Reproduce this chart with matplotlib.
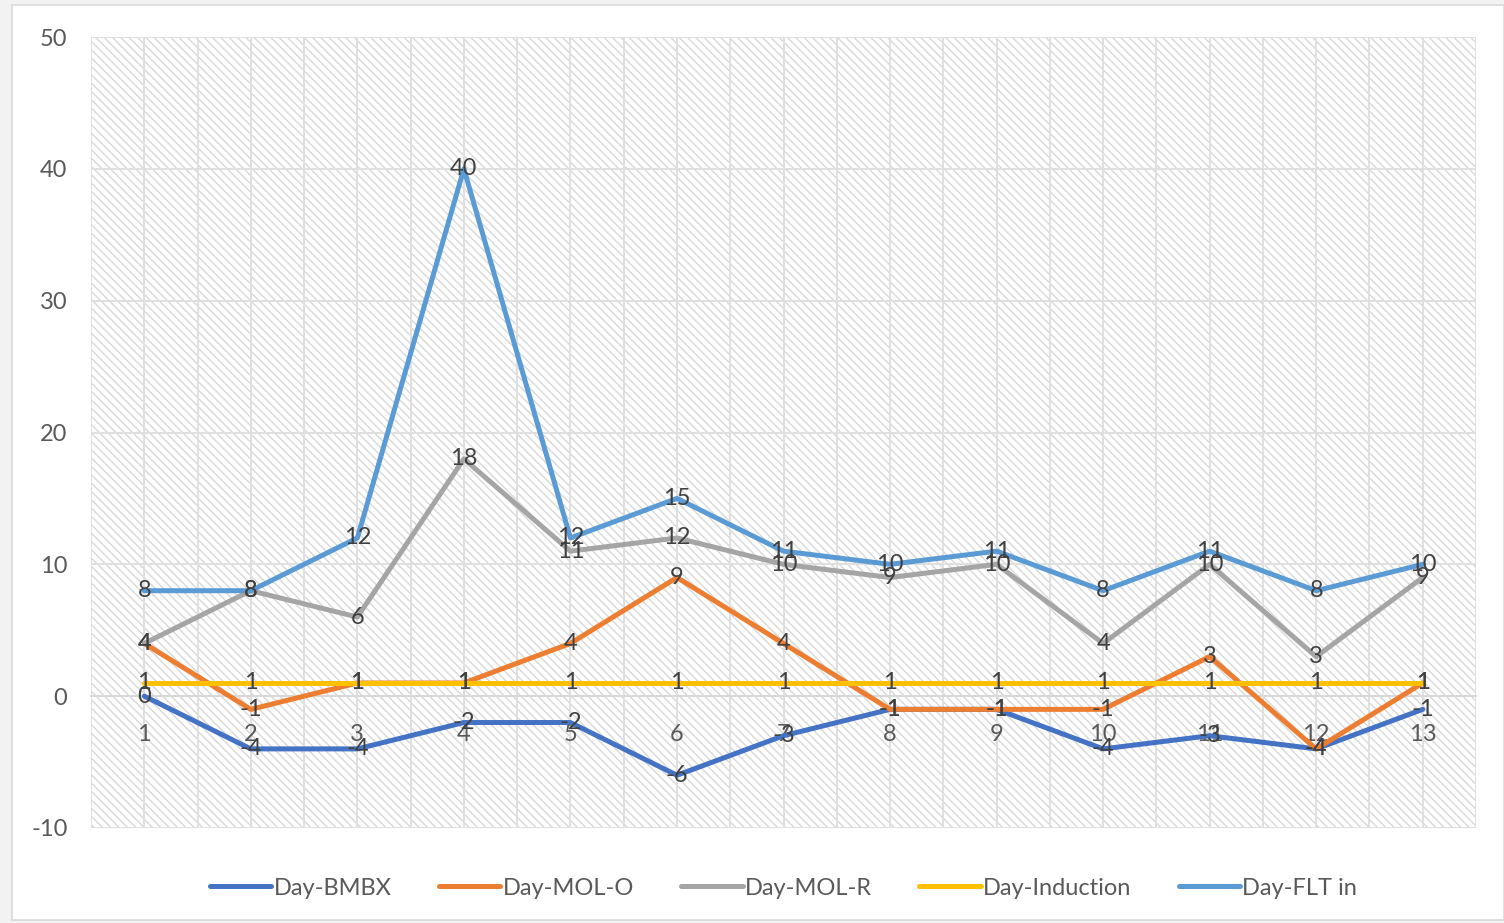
import matplotlib.pyplot as plt
import matplotlib.patches as mpatches
import numpy as np

plt.rcParams['font.family'] = ['Lato', 'DejaVu Sans']
plt.rcParams['axes.unicode_minus'] = False
plt.rcParams['hatch.linewidth'] = 1.0

days = list(range(1, 14))
bmbx = [0, -4, -4, -2, -2, -6, -3, -1, -1, -4, -3, -4, -1]
mol_o = [4, -1, 1, 1, 4, 9, 4, -1, -1, -1, 3, -4, 1]
mol_r = [4, 8, 6, 18, 11, 12, 10, 9, 10, 4, 10, 3, 9]
induction = [1] * 13
flt_in = [8, 8, 12, 40, 12, 15, 11, 10, 11, 8, 11, 8, 10]

series = [
    ('Day-BMBX', bmbx, '#4472C4'),
    ('Day-MOL-O', mol_o, '#ED7D31'),
    ('Day-MOL-R', mol_r, '#A5A5A5'),
    ('Day-Induction', induction, '#FFC000'),
    ('Day-FLT in', flt_in, '#5B9BD5'),
]

fig = plt.figure(figsize=(15.04, 9.23), dpi=100)
fig.patch.set_facecolor('#f2f2f2')
# white chart area with thin border
border = mpatches.Rectangle((12 / 1504, 3 / 923), 1 - 12 / 1504, 1 - 8 / 923,
                            transform=fig.transFigure, facecolor='white',
                            edgecolor='#d9d9d9', linewidth=1.2, zorder=-10)
fig.add_artist(border)

ax = fig.add_axes([91 / 1504, 1 - 828 / 923, (1476 - 91) / 1504, (828 - 37) / 923])
ax.set_facecolor('white')
# diagonal hatch fill of the plot area
ax.add_patch(mpatches.Rectangle((0, 0), 1, 1, transform=ax.transAxes, facecolor='white',
                                edgecolor='#d8d8d8', linewidth=0, hatch='\\\\\\\\', zorder=0))

ax.set_xlim(0.5, 13.5)
ax.set_ylim(-10, 50)
ax.set_yticks(np.arange(-10, 51, 10))
ax.set_xticks(days)
ax.set_xticks(np.arange(0.5, 13.6, 1), minor=True)
ax.grid(True, which='both', axis='x', color='#e0e0e0', linewidth=1.4, zorder=1)
ax.grid(True, which='major', axis='y', color='#e0e0e0', linewidth=1.4, zorder=1)
ax.set_axisbelow(True)

for s in ['top', 'right', 'left']:
    ax.spines[s].set_visible(False)
ax.spines['bottom'].set_position(('data', 0))
ax.spines['bottom'].set_color('#d9d9d9')
ax.spines['bottom'].set_linewidth(1.4)
ax.tick_params(axis='both', which='both', length=0, labelsize=17, labelcolor='#595959')
ax.tick_params(axis='y', pad=17)
ax.tick_params(axis='x', pad=20)

for name, vals, color in series:
    ax.plot(days, vals, color=color, linewidth=3.6, label=name, zorder=3,
            solid_joinstyle='round', solid_capstyle='round')

for name, vals, color in series:
    for x, v in zip(days, vals):
        ax.text(x, v, str(v), ha='center', va='center', fontsize=17, color='#404040', zorder=5)

leg = ax.legend(loc='upper center', bbox_to_anchor=(0.5, -0.036), ncol=5, frameon=False,
                fontsize=17, handlelength=2.6, columnspacing=2.0, handletextpad=0.1,
                labelcolor='#595959')
for line in leg.get_lines():
    line.set_linewidth(3.6)

fig.savefig('out.png', dpi=100, facecolor=fig.get_facecolor())
